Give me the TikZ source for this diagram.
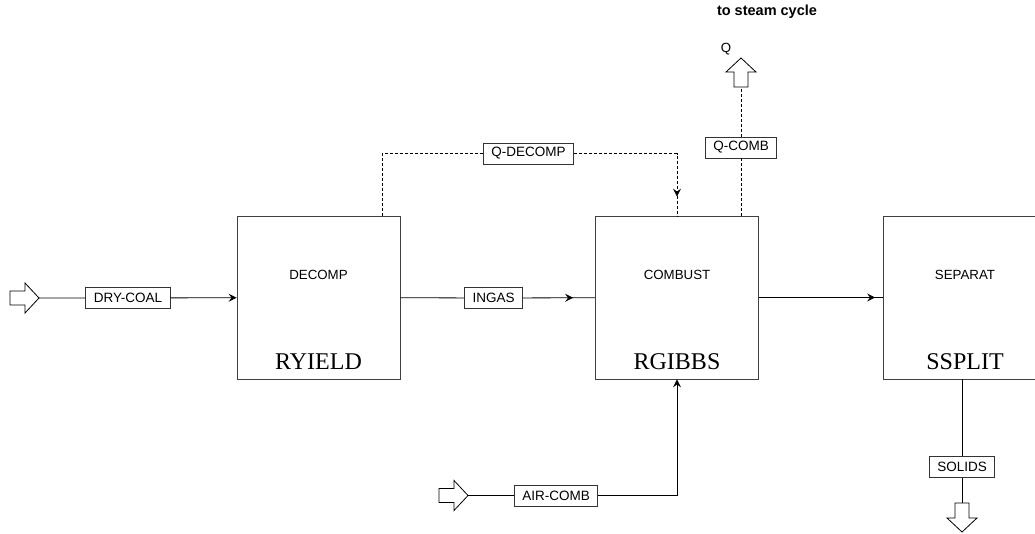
\documentclass[tikz,border=0pt]{standalone}
\usepackage{fontspec}
\setmainfont{Liberation Sans}
\newfontfamily\modelfont{Liberation Serif}
\usetikzlibrary{arrows.meta, positioning, decorations.markings}

\begin{document}
\begin{tikzpicture}[%
    ,x=1pt,y=-1pt
    ,>={Stealth[length=8pt,width=8pt,inset=3pt]}
    ,line width=0.8pt
    ,block/.style = {%
        ,draw=black!75
        ,minimum height=163pt,minimum width=163pt
        ,inner sep=0pt
        }
    ,stream/.style = {%
        ,draw=black!80, fill=white
        ,font=\fontsize{13.5}{15}\selectfont
        ,minimum height=21pt, inner xsep=8pt
        }
    ,blockname/.style = {font=\fontsize{13.3}{15}\selectfont}
    ,model/.style = {font=\modelfont\fontsize{24}{28}\selectfont, anchor=base}
    ,heat/.style = {dash pattern=on 3pt off 2pt}
    ,tip before/.style = {%
        ,postaction=decorate
        ,decoration={markings, mark=at position -#1 with {\arrow{>}}}
        }
    ,pics/feed/.style = {code={%
        \draw[fill=white] (0,-7) -- (15,-7) -- (15,-15) -- (29,0)
            -- (15,15) -- (15,7) -- (0,7) -- cycle;
        \coordinate (-tail) at (0,0);
        \coordinate (-tip) at (29,0);
        }}
    ]
\useasboundingbox (0,0) rectangle (1035,533);

% unit blocks
\node (dcp) [block] at (318.5,297.5) {};
\node (cmb) [block] at (677,297.5) {};
\node (sep) [block] at (965,297.5) {};

\node [blockname] at ([yshift=22.5pt]dcp.center) {DECOMP};
\node [blockname] at ([yshift=22.5pt]cmb.center) {COMBUST};
\node [blockname] at ([yshift=22.5pt]sep.center) {SEPARAT};
\node [model] at ([yshift=10pt]dcp.south) {RYIELD};
\node [model] at ([yshift=10pt]cmb.south) {RGIBBS};
\node [model] at ([yshift=10pt]sep.south) {SSPLIT};

% stream labels
\node (drycoal) [stream] at (128,298)   {DRY-COAL};
\node (ingas)   [stream] at (493.5,298) {INGAS};
\node (qdecomp) [stream] at (528.5,153.5) {Q-DECOMP};
\node (qcomb)   [stream] at (741,147.5) {Q-COMB};
\node (aircomb) [stream] at (556,495.5) {AIR-COMB};
\node (solids)  [stream] at (962,467)   {SOLIDS};

% feeds and products
\pic (coalin) at (10,298) {feed};
\pic (airin) at (439,495.5) {feed};
\pic[rotate=90] (qout) at (741,87) {feed};
\pic[rotate=-90] (solout) at (962,503) {feed};

\node (q) [blockname] at (726,49) {Q};
\node (steam) [font=\bfseries\fontsize{14.5}{16}\selectfont] at (767,12) {to steam cycle};

% material streams
\draw[->] (coalin-tip) -- (drycoal) -- (dcp);
\draw (dcp) -- (ingas);
\draw[tip before=22pt] (ingas) -- (cmb);
\draw[tip before=8pt] (cmb) -- (sep);
\draw[->] (airin-tip) -- (aircomb) -| (cmb);
\draw (solids |- sep.south) -- (solids) -- (solout-tail);

% heat streams
\draw[heat] ([xshift=63.5pt]dcp.north) |- (qdecomp);
\draw[heat, tip before=19pt] (qdecomp) -| (cmb);
\draw[heat] ([xshift=64pt]cmb.north) -- (qcomb) -- (qout-tail);
\end{tikzpicture}
\end{document}
